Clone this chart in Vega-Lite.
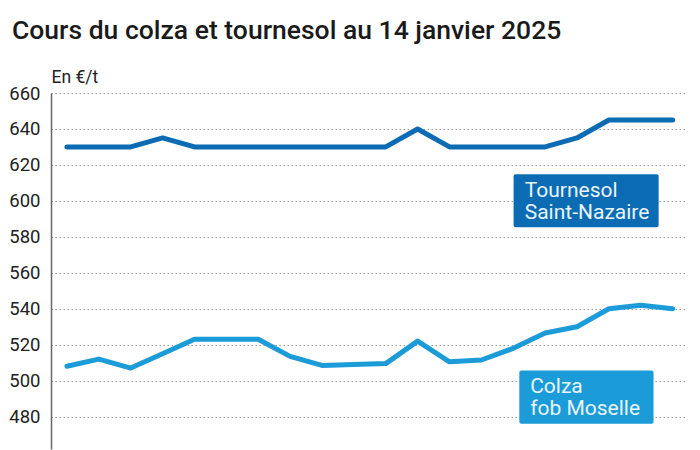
{
  "$schema": "https://vega.github.io/schema/vega-lite/v6.json",
  "autosize": "none",
  "width": 636,
  "height": 356,
  "padding": {"left": 51, "top": 93, "right": 13, "bottom": 1},
  "background": "white",
  "config": {"view": {"stroke": null}, "font": "Roboto"},
  "title": {
    "text": "Cours du colza et tournesol au 14 janvier 2025",
    "anchor": "start",
    "frame": "group",
    "font": "Roboto",
    "fontSize": 26.5,
    "fontWeight": 500,
    "color": "#1a1a1a",
    "dx": -39,
    "offset": 24
  },
  "datasets": {
    "prices": [
      {"i": 0, "serie": "Tournesol", "prix": 630}, {"i": 1, "serie": "Tournesol", "prix": 630},
      {"i": 2, "serie": "Tournesol", "prix": 630}, {"i": 3, "serie": "Tournesol", "prix": 635},
      {"i": 4, "serie": "Tournesol", "prix": 630}, {"i": 5, "serie": "Tournesol", "prix": 630},
      {"i": 6, "serie": "Tournesol", "prix": 630}, {"i": 7, "serie": "Tournesol", "prix": 630},
      {"i": 8, "serie": "Tournesol", "prix": 630}, {"i": 9, "serie": "Tournesol", "prix": 630},
      {"i": 10, "serie": "Tournesol", "prix": 630}, {"i": 11, "serie": "Tournesol", "prix": 640},
      {"i": 12, "serie": "Tournesol", "prix": 630}, {"i": 13, "serie": "Tournesol", "prix": 630},
      {"i": 14, "serie": "Tournesol", "prix": 630}, {"i": 15, "serie": "Tournesol", "prix": 630},
      {"i": 16, "serie": "Tournesol", "prix": 635}, {"i": 17, "serie": "Tournesol", "prix": 645},
      {"i": 18, "serie": "Tournesol", "prix": 645}, {"i": 19, "serie": "Tournesol", "prix": 645},
      {"i": 0, "serie": "Colza", "prix": 508}, {"i": 1, "serie": "Colza", "prix": 512},
      {"i": 2, "serie": "Colza", "prix": 507}, {"i": 3, "serie": "Colza", "prix": 515},
      {"i": 4, "serie": "Colza", "prix": 523}, {"i": 5, "serie": "Colza", "prix": 523},
      {"i": 6, "serie": "Colza", "prix": 523}, {"i": 7, "serie": "Colza", "prix": 513.5},
      {"i": 8, "serie": "Colza", "prix": 508.5}, {"i": 9, "serie": "Colza", "prix": 509},
      {"i": 10, "serie": "Colza", "prix": 509.5}, {"i": 11, "serie": "Colza", "prix": 522},
      {"i": 12, "serie": "Colza", "prix": 510.5}, {"i": 13, "serie": "Colza", "prix": 511.5},
      {"i": 14, "serie": "Colza", "prix": 518}, {"i": 15, "serie": "Colza", "prix": 526.5},
      {"i": 16, "serie": "Colza", "prix": 530}, {"i": 17, "serie": "Colza", "prix": 540},
      {"i": 18, "serie": "Colza", "prix": 542}, {"i": 19, "serie": "Colza", "prix": 540}
    ],
    "boxes": [
      {"serie": "Tournesol", "x1": 14.01, "x2": 18.56, "y1": 614.8, "y2": 585.4},
      {"serie": "Colza", "x1": 14.19, "x2": 18.40, "y1": 505.6, "y2": 476.1}
    ],
    "lignes": [
      {"tx": 14.36, "ty": 602.1, "texte": "Tournesol"},
      {"tx": 14.36, "ty": 589.7, "texte": "Saint-Nazaire"},
      {"tx": 14.53, "ty": 493.2, "texte": "Colza"},
      {"tx": 14.53, "ty": 480.8, "texte": "fob Moselle"}
    ]
  },
  "layer": [
    {
      "data": {"name": "prices"},
      "mark": {"type": "line", "strokeWidth": 5, "strokeCap": "round", "strokeJoin": "round"},
      "encoding": {
        "x": {"field": "i", "type": "quantitative", "scale": {"domain": [-0.5, 19.45], "nice": false, "zero": false}, "axis": null},
        "y": {
          "field": "prix", "type": "quantitative",
          "scale": {"domain": [462, 660], "nice": false, "zero": false},
          "axis": {
            "values": [480, 500, 520, 540, 560, 580, 600, 620, 640, 660],
            "tickCount": 30,
            "labelOverlap": false,
            "labelFlush": false,
            "labelBound": false,
            "title": "En €/t",
            "titleAngle": 0,
            "titleX": 0,
            "titleY": -11,
            "titleAlign": "left",
            "titleBaseline": "alphabetic",
            "titleFont": "Roboto",
            "titleFontSize": 17.5,
            "titleFontWeight": "normal",
            "titleColor": "#222",
            "labelFont": "Roboto",
            "labelFontSize": 18.5,
            "labelColor": "#222",
            "labelPadding": 11,
            "ticks": false,
            "domain": true,
            "domainColor": "#666",
            "domainWidth": 1.5,
            "grid": true,
            "gridColor": "#9a9a9a",
            "gridDash": [1.5, 2.5],
            "gridWidth": 1
          }
        },
        "color": {"field": "serie", "type": "nominal", "scale": {"domain": ["Tournesol", "Colza"], "range": ["#0b6cb4", "#1b9bd8"]}, "legend": null},
        "detail": {"field": "serie"}
      }
    },
    {
      "data": {"name": "boxes"},
      "mark": {"type": "rect", "cornerRadius": 2},
      "encoding": {
        "x": {"field": "x1", "type": "quantitative"},
        "x2": {"field": "x2"},
        "y": {"field": "y1", "type": "quantitative"},
        "y2": {"field": "y2"},
        "color": {"field": "serie", "type": "nominal", "legend": null}
      }
    },
    {
      "data": {"name": "lignes"},
      "mark": {"type": "text", "align": "left", "baseline": "alphabetic", "font": "Roboto", "fontSize": 21, "color": "#eaf5fc"},
      "encoding": {
        "x": {"field": "tx", "type": "quantitative"},
        "y": {"field": "ty", "type": "quantitative"},
        "text": {"field": "texte"}
      }
    }
  ]
}
